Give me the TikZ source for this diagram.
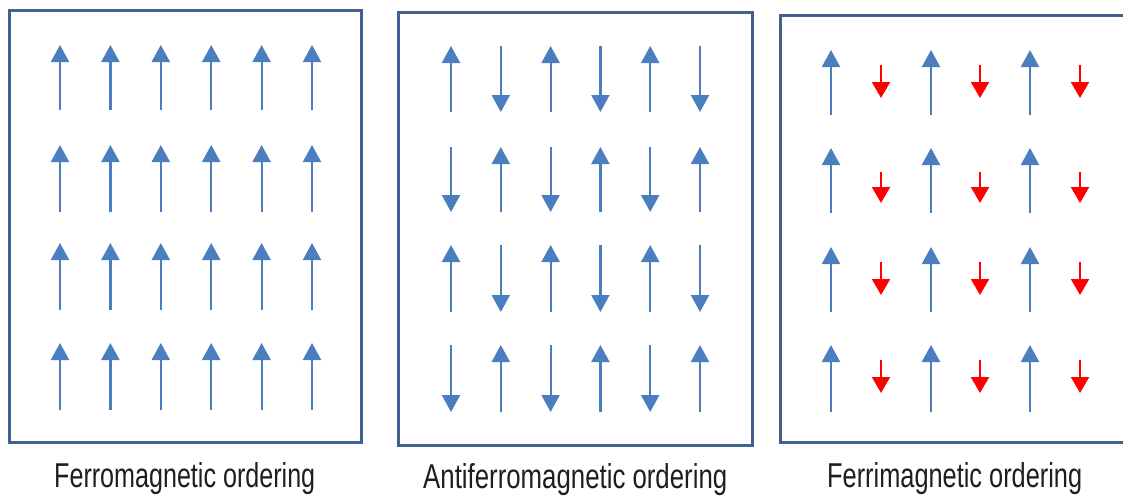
\documentclass[tikz,border=0pt]{standalone}
\usepackage{fontspec}
\usepackage{graphicx}
\setmainfont{Liberation Sans}
\usetikzlibrary{arrows.meta}

\definecolor{frame}{HTML}{41618F}
\definecolor{spin}{HTML}{4A7EBE}
\definecolor{minor}{HTML}{FF0000}
\definecolor{caption}{HTML}{1E1E1E}

\tikzset{
  panel/.style={draw=frame, line width=3pt},
  bigspin/.style={spin, line width=2.2pt, -{Triangle[width=18pt,length=17pt]}},
  smallspin/.style={minor, line width=2pt, -{Triangle[width=18pt,length=16pt]}},
  caption/.style={inner sep=0pt, anchor=base west, text=caption},
}

\begin{document}
\begin{tikzpicture}[x=1pt, y=-1pt]
  \useasboundingbox (0,0) rectangle (1123,498);

  % three panels
  \draw[panel] (9,10) rectangle (361,442);
  \draw[panel] (398,12) rectangle (752,445);
  \draw[panel] (780,15) rectangle (1128,442);

  % ferromagnetic: all moments up
  \foreach \tip/\tail in {45/110, 145/212, 243/310, 343/410}
    \foreach \i in {0,...,5}
      \draw[bigspin] ({60+50.4*\i},\tail) -- ({60+50.4*\i},\tip);

  % antiferromagnetic: equal moments alternating
  \foreach \top/\bot [count=\r] in {46/112, 147/212, 245/312, 345/412}
    \foreach \i in {0,...,5} {
      \pgfmathtruncatemacro{\parity}{mod(\r+\i,2)}
      \ifnum\parity=1
        \draw[bigspin] ({451+49.8*\i},\bot) -- ({451+49.8*\i},\top);
      \else
        \draw[bigspin] ({451+49.8*\i},\top) -- ({451+49.8*\i},\bot);
      \fi
    }

  % ferrimagnetic: large moments up, small moments down
  \foreach \tip/\tail in {50/115, 148/213, 247/312, 345/412}
    \foreach \x in {831, 931, 1030}
      \draw[bigspin] (\x,\tail) -- (\x,\tip);
  \foreach \top/\bot in {65/98, 172/203, 262/295, 360/393}
    \foreach \x in {881, 980, 1080}
      \draw[smallspin] (\x,\top) -- (\x,\bot);

  % captions
  \node[caption] (ferro) at (54,487)
    {\resizebox{261pt}{25pt}{Ferromagnetic ordering}};
  \node[caption] (antiferro) at (423,488)
    {\resizebox{304pt}{25pt}{Antiferromagnetic ordering}};
  \node[caption] (ferri) at (827,487)
    {\resizebox{255pt}{25pt}{Ferrimagnetic ordering}};
\end{tikzpicture}
\end{document}
